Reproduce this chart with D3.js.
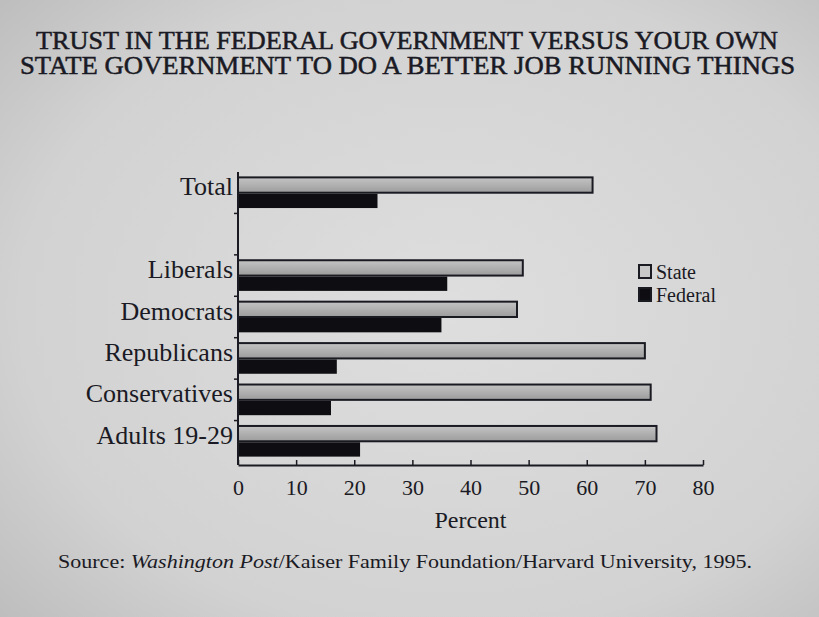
<!DOCTYPE html>
<html>
<head>
<meta charset="utf-8">
<script src="https://cdn.jsdelivr.net/npm/d3@7"></script>
<style>
  body { margin: 0; background: #d4d4d4; }
  svg { display: block; }
  text { font-family: "Liberation Serif", "DejaVu Serif", serif; fill: #1a1a24; }
</style>
</head>
<body>
<svg id="chart" width="819" height="617"></svg>
<script>
// data
const categories = ["Total", "", "Liberals", "Democrats", "Republicans", "Conservatives", "Adults 19-29"];
const stateValues = [61, null, 49, 48, 70, 71, 72];
const federalValues = [24, null, 36, 35, 17, 16, 21];
const xTicks = [0, 10, 20, 30, 40, 50, 60, 70, 80];
const seriesNames = ["State", "Federal"];

const svg = d3.select("#chart");

// soft vignette like the photographed page
const defs = svg.append("defs");
const bg = defs.append("radialGradient").attr("id", "bg")
  .attr("cx", "55%").attr("cy", "50%").attr("r", "75%");
bg.append("stop").attr("offset", "0%").attr("stop-color", "#dedede");
bg.append("stop").attr("offset", "70%").attr("stop-color", "#d2d2d2");
bg.append("stop").attr("offset", "100%").attr("stop-color", "#bdbdbd");
const barGrad = defs.append("linearGradient").attr("id", "stateFill")
  .attr("x1", 0).attr("y1", 0).attr("x2", 0).attr("y2", 1);
barGrad.append("stop").attr("offset", "0%").attr("stop-color", "#c4c4c4");
barGrad.append("stop").attr("offset", "100%").attr("stop-color", "#9c9c9c");

svg.append("rect").attr("width", 819).attr("height", 617).attr("fill", "url(#bg)");

// title
const title = ["TRUST IN THE FEDERAL GOVERNMENT VERSUS YOUR OWN",
               "STATE GOVERNMENT TO DO A BETTER JOB RUNNING THINGS"];
svg.append("text").attr("x", 36).attr("y", 49)
  .attr("textLength", 742).attr("lengthAdjust", "spacingAndGlyphs")
  .style("font-size", "25px").style("stroke", "#1a1a24").style("stroke-width", 0.5)
  .text(title[0]);
svg.append("text").attr("x", 20).attr("y", 74)
  .attr("textLength", 775).attr("lengthAdjust", "spacingAndGlyphs")
  .style("font-size", "25px").style("stroke", "#1a1a24").style("stroke-width", 0.5)
  .text(title[1]);

const x = d3.scaleLinear().domain([0, 80]).range([238, 703]);
const y = d3.scaleBand().domain(categories).range([172, 462]).paddingInner(0.26).paddingOuter(0.13);
const sub = d3.scaleBand().domain(seriesNames).range([0, y.bandwidth()]);

const g = svg.append("g");

const rows = categories.map((c, i) => ({ cat: c, state: stateValues[i], federal: federalValues[i] }))
  .filter(d => d.state != null);

g.selectAll("rect.state").data(rows).join("rect")
  .attr("class", "state")
  .attr("x", x(0))
  .attr("y", d => y(d.cat) + sub("State"))
  .attr("width", d => x(d.state) - x(0))
  .attr("height", sub.bandwidth())
  .attr("fill", "url(#stateFill)")
  .attr("stroke", "#1a1a22")
  .attr("stroke-width", 2);

g.selectAll("rect.federal").data(rows).join("rect")
  .attr("class", "federal")
  .attr("x", x(0))
  .attr("y", d => y(d.cat) + sub("Federal") + 1)
  .attr("width", d => x(d.federal) - x(0))
  .attr("height", sub.bandwidth() - 1)
  .attr("fill", "#0e0e12");

// y axis line with small separators
const yAxis = g.append("g").attr("transform", `translate(${x(0)},0)`)
  .call(d3.axisLeft(y).tickSize(0).tickFormat(d => d).tickPadding(5));
yAxis.select(".domain").attr("stroke", "#1a1a22").attr("stroke-width", 2)
  .attr("d", `M0,172V465`);
yAxis.selectAll("text").style("font-size", "26px").style("font-family", "Liberation Serif")
  .attr("dy", "0.1em").attr("fill", "#1a1a24");

const step = y.step();
g.selectAll("line.sep").data(categories.slice(1)).join("line")
  .attr("class", "sep")
  .attr("x1", x(0) - 4).attr("x2", x(0))
  .attr("y1", d => y(d) - step * y.paddingInner() / 2)
  .attr("y2", d => y(d) - step * y.paddingInner() / 2)
  .attr("stroke", "#1a1a22").attr("stroke-width", 1.5);

// x axis
const xAxis = g.append("g").attr("transform", "translate(0,465)")
  .call(d3.axisTop(x).tickValues(xTicks).tickSize(5).tickSizeOuter(0).tickFormat(d3.format("d")));
xAxis.select(".domain").attr("stroke", "#1a1a22").attr("stroke-width", 2);
xAxis.selectAll(".tick line").attr("stroke", "#1a1a22").attr("stroke-width", 1.5);
xAxis.selectAll("text").attr("y", 22).attr("dy", "0.35em")
  .style("font-size", "22px").style("font-family", "Liberation Serif").attr("fill", "#1a1a24");

svg.append("text").attr("x", x(40)).attr("y", 528).attr("text-anchor", "middle")
  .style("font-size", "24px").text("Percent");

// legend
const legend = svg.append("g").attr("transform", "translate(639,265)");
seriesNames.forEach((name, i) => {
  const row = legend.append("g").attr("transform", `translate(0,${i * 23})`);
  row.append("rect").attr("width", 12).attr("height", 13)
    .attr("fill", i === 0 ? "#c8c8c8" : "#0e0e12")
    .attr("stroke", "#1a1a22").attr("stroke-width", 2);
  row.append("text").attr("x", 17).attr("y", 14)
    .style("font-size", "20px").text(name);
});

// source line
const src = svg.append("text").attr("x", 58).attr("y", 568)
  .attr("textLength", 694).attr("lengthAdjust", "spacingAndGlyphs")
  .style("font-size", "18px");
src.append("tspan").text("Source: ");
src.append("tspan").style("font-style", "italic").text("Washington Post");
src.append("tspan").text("/Kaiser Family Foundation/Harvard University, 1995.");
</script>
</body>
</html>
